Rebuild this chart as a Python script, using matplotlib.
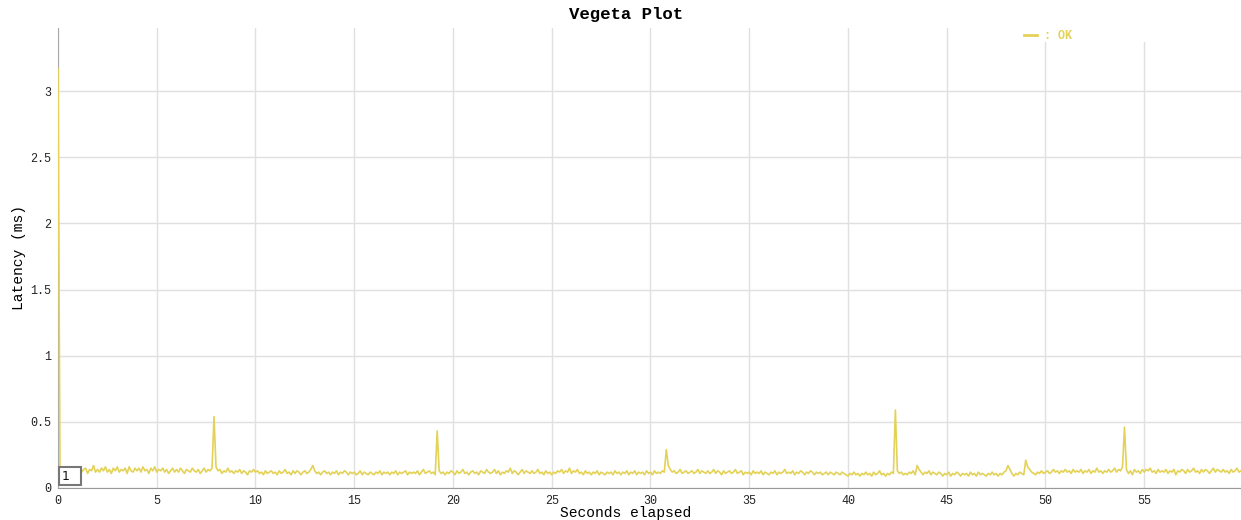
import numpy as np
import matplotlib
matplotlib.use("Agg")
import matplotlib.pyplot as plt
from matplotlib.patches import Rectangle
from matplotlib.lines import Line2D

# latency samples (ms), one every 0.1 s, one row per second
latency_ms = [
    3.17, 0.15, 0.13, 0.16, 0.12, 0.14, 0.13, 0.15, 0.12, 0.14,
    0.13, 0.16, 0.12, 0.14, 0.15, 0.11, 0.14, 0.13, 0.17, 0.12,
    0.14, 0.12, 0.15, 0.13, 0.16, 0.12, 0.14, 0.11, 0.15, 0.13,
    0.16, 0.12, 0.14, 0.13, 0.15, 0.11, 0.16, 0.13, 0.12, 0.15,
    0.13, 0.15, 0.12, 0.16, 0.13, 0.14, 0.11, 0.15, 0.13, 0.16,
    0.12, 0.14, 0.13, 0.15, 0.12, 0.14, 0.11, 0.13, 0.15, 0.12,
    0.14, 0.12, 0.15, 0.13, 0.11, 0.14, 0.13, 0.12, 0.15, 0.13,
    0.12, 0.14, 0.11, 0.13, 0.15, 0.12, 0.14, 0.13, 0.15, 0.54,
    0.16, 0.13, 0.14, 0.11, 0.13, 0.12, 0.15, 0.12, 0.13, 0.11,
    0.13, 0.12, 0.14, 0.11, 0.13, 0.12, 0.10, 0.13, 0.12, 0.14,
    0.12, 0.13, 0.11, 0.12, 0.10, 0.13, 0.11, 0.12, 0.13, 0.11,
    0.12, 0.10, 0.13, 0.11, 0.12, 0.14, 0.11, 0.12, 0.10, 0.13,
    0.11, 0.13, 0.12, 0.10, 0.12, 0.13, 0.11, 0.12, 0.14, 0.17,
    0.13, 0.11, 0.12, 0.10, 0.12, 0.13, 0.11, 0.12, 0.10, 0.12,
    0.11, 0.13, 0.10, 0.12, 0.11, 0.13, 0.12, 0.10, 0.12, 0.11,
    0.12, 0.10, 0.11, 0.13, 0.10, 0.12, 0.11, 0.10, 0.12, 0.11,
    0.10, 0.12, 0.11, 0.13, 0.10, 0.12, 0.11, 0.12, 0.10, 0.12,
    0.11, 0.13, 0.10, 0.12, 0.11, 0.12, 0.13, 0.10, 0.12, 0.11,
    0.12, 0.11, 0.13, 0.10, 0.12, 0.14, 0.11, 0.12, 0.13, 0.11,
    0.12, 0.10, 0.43, 0.13, 0.11, 0.12, 0.10, 0.12, 0.11, 0.13,
    0.12, 0.10, 0.13, 0.11, 0.12, 0.14, 0.11, 0.12, 0.10, 0.12,
    0.13, 0.11, 0.12, 0.10, 0.13, 0.12, 0.11, 0.14, 0.12, 0.11,
    0.12, 0.14, 0.11, 0.13, 0.10, 0.12, 0.11, 0.13, 0.12, 0.15,
    0.11, 0.13, 0.12, 0.10, 0.12, 0.14, 0.11, 0.13, 0.12, 0.11,
    0.13, 0.11, 0.12, 0.14, 0.11, 0.12, 0.10, 0.13, 0.11, 0.12,
    0.10, 0.12, 0.11, 0.13, 0.12, 0.14, 0.11, 0.13, 0.12, 0.15,
    0.11, 0.13, 0.12, 0.14, 0.11, 0.12, 0.10, 0.13, 0.11, 0.12,
    0.10, 0.12, 0.11, 0.13, 0.10, 0.12, 0.11, 0.10, 0.12, 0.11,
    0.12, 0.10, 0.13, 0.11, 0.12, 0.10, 0.12, 0.11, 0.13, 0.10,
    0.12, 0.11, 0.13, 0.10, 0.12, 0.11, 0.12, 0.10, 0.13, 0.11,
    0.12, 0.10, 0.13, 0.11, 0.12, 0.11, 0.13, 0.12, 0.29, 0.17,
    0.14, 0.12, 0.13, 0.11, 0.12, 0.14, 0.11, 0.12, 0.13, 0.11,
    0.12, 0.13, 0.11, 0.12, 0.14, 0.11, 0.13, 0.12, 0.11, 0.13,
    0.11, 0.12, 0.14, 0.11, 0.13, 0.12, 0.10, 0.13, 0.11, 0.12,
    0.13, 0.11, 0.12, 0.14, 0.11, 0.12, 0.13, 0.10, 0.12, 0.11,
    0.12, 0.10, 0.13, 0.11, 0.12, 0.11, 0.13, 0.10, 0.12, 0.11,
    0.10, 0.12, 0.11, 0.13, 0.10, 0.12, 0.11, 0.12, 0.14, 0.11,
    0.12, 0.11, 0.13, 0.10, 0.12, 0.11, 0.13, 0.12, 0.10, 0.12,
    0.11, 0.13, 0.12, 0.10, 0.12, 0.11, 0.12, 0.10, 0.11, 0.12,
    0.10, 0.12, 0.11, 0.10, 0.12, 0.11, 0.10, 0.12, 0.11, 0.10,
    0.09, 0.11, 0.10, 0.12, 0.10, 0.11, 0.09, 0.11, 0.10, 0.12,
    0.10, 0.11, 0.09, 0.12, 0.10, 0.11, 0.13, 0.10, 0.11, 0.09,
    0.11, 0.10, 0.12, 0.11, 0.59, 0.13, 0.11, 0.12, 0.10, 0.11,
    0.10, 0.12, 0.11, 0.13, 0.10, 0.17, 0.14, 0.12, 0.10, 0.12,
    0.11, 0.13, 0.10, 0.12, 0.11, 0.10, 0.12, 0.11, 0.09, 0.11,
    0.10, 0.12, 0.09, 0.11, 0.10, 0.12, 0.11, 0.09, 0.11, 0.10,
    0.11, 0.09, 0.12, 0.10, 0.11, 0.09, 0.12, 0.10, 0.11, 0.10,
    0.09, 0.11, 0.10, 0.12, 0.10, 0.11, 0.09, 0.11, 0.10, 0.12,
    0.13, 0.17, 0.14, 0.11, 0.09, 0.11, 0.10, 0.12, 0.11, 0.10,
    0.21, 0.16, 0.14, 0.12, 0.11, 0.10, 0.12, 0.11, 0.13, 0.11,
    0.12, 0.13, 0.11, 0.12, 0.14, 0.12, 0.13, 0.11, 0.13, 0.12,
    0.14, 0.12, 0.13, 0.11, 0.14, 0.12, 0.13, 0.12, 0.14, 0.11,
    0.13, 0.12, 0.14, 0.11, 0.13, 0.12, 0.15, 0.12, 0.13, 0.11,
    0.13, 0.12, 0.14, 0.12, 0.13, 0.15, 0.12, 0.14, 0.13, 0.16,
    0.46, 0.14, 0.11, 0.13, 0.10, 0.14, 0.12, 0.13, 0.11, 0.14,
    0.12, 0.14, 0.13, 0.15, 0.12, 0.13, 0.11, 0.14, 0.12, 0.13,
    0.12, 0.14, 0.11, 0.13, 0.12, 0.14, 0.10, 0.13, 0.12, 0.14,
    0.13, 0.11, 0.14, 0.12, 0.13, 0.15, 0.12, 0.13, 0.11, 0.14,
    0.12, 0.14, 0.13, 0.11, 0.13, 0.15, 0.12, 0.14, 0.13, 0.12,
    0.14, 0.12, 0.13, 0.11, 0.14, 0.12, 0.13, 0.15, 0.12, 0.13,
]
seconds = np.arange(len(latency_ms)) / 10.0

x_ticks = [0, 5, 10, 15, 20, 25, 30, 35, 40, 45, 50, 55]
y_ticks = [0, 0.5, 1, 1.5, 2, 2.5, 3]
y_tick_labels = ["0", "0.5", "1", "1.5", "2", "2.5", "3"]

line_color = "#e3d257"
mono = ["Liberation Mono", "DejaVu Sans Mono"]

W, H = 1241, 520
fig = plt.figure(figsize=(W / 100, H / 100), dpi=100)
ax = fig.add_axes([58 / W, 1 - 488 / H, 1 - 58 / W, 460 / H])

ax.plot(seconds, latency_ms, color=line_color, lw=1.2, zorder=3)

ax.set_xlim(0, seconds[-1])
ax.set_ylim(0, 3.477)
ax.set_xticks(x_ticks)
ax.set_yticks(y_ticks)
ax.set_yticklabels(y_tick_labels)
ax.grid(True, color="#e0e0e0", lw=1)
ax.set_axisbelow(True)
ax.tick_params(length=0, labelsize=8.5, colors="#222222", pad=5)
for lab in ax.get_xticklabels() + ax.get_yticklabels():
    lab.set_family(mono)

for side in ("top", "right"):
    ax.spines[side].set_visible(False)
ax.spines["left"].set_color("#aaaaaa")
ax.spines["bottom"].set_color("#999999")

# legend sits on a white strip along the top-right of the plot
fig.patches.append(Rectangle((1010 / W, 1 - 42 / H), (W - 1010) / W, 14 / H,
                             transform=fig.transFigure, facecolor="white",
                             edgecolor="none", zorder=4))
fig.lines.append(Line2D([1024 / W, 1037 / W], [1 - 35 / H, 1 - 35 / H],
                        transform=fig.transFigure, color=line_color,
                        lw=2, zorder=5))
fig.text(1044 / W, 1 - 36 / H, ": OK", color=line_color, fontsize=8.5,
         family=mono, fontweight="bold", va="center", zorder=5)

# roll period box
fig.patches.append(Rectangle((59 / W, 1 - 485 / H), 22 / W, 18 / H,
                             transform=fig.transFigure, facecolor="white",
                             edgecolor="#777777", lw=1.5, zorder=5))
fig.text(62 / W, 1 - 476 / H, "1", fontsize=9, family="DejaVu Sans",
         va="center", color="#111111", zorder=6)

fig.text(626 / W, 1 - 15 / H, "Vegeta Plot", ha="center", va="center",
         fontsize=12.5, fontweight="bold", family=mono)
fig.text(626 / W, 1 - 513 / H, "Seconds elapsed", ha="center", va="center",
         fontsize=10.5, family=mono)
fig.text(19 / W, 1 - 258 / H, "Latency (ms)", ha="center", va="center",
         rotation=90, fontsize=10.5, family=mono)

fig.savefig("out.png", dpi=100)
